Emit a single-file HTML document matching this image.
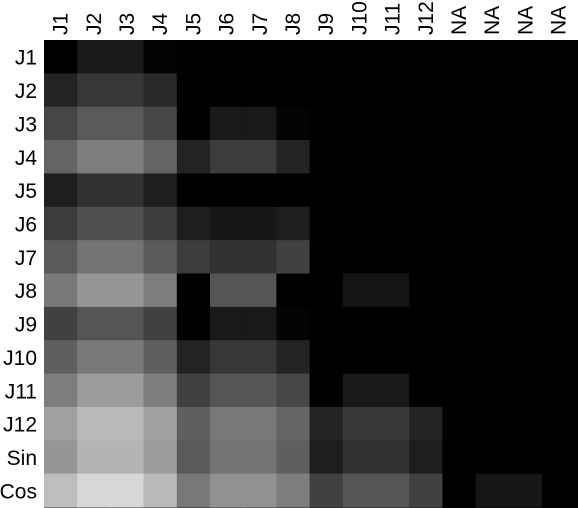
<!DOCTYPE html>
<html><head><meta charset="utf-8"><style>
html,body{margin:0;padding:0;background:#fff;width:578px;height:508px;overflow:hidden}
svg text{font-family:"Liberation Sans",sans-serif;font-size:21px;fill:#000}
</style></head><body>
<svg id="chart" width="578" height="508"></svg>
<script>
const colLabels=["J1","J2","J3","J4","J5","J6","J7","J8","J9","J10","J11","J12","NA","NA","NA","NA"];
const rowLabels=["J1","J2","J3","J4","J5","J6","J7","J8","J9","J10","J11","J12","Sin","Cos"];
const r0=[0,25,25,3,0,0,0,0,0,0,0,0,0,0,0,0];
const r1=[35,55,55,40,0,0,0,0,0,0,0,0,0,0,0,0];
const r2=[70,90,90,70,0,25,25,3,0,0,0,0,0,0,0,0];
const r3=[100,125,125,100,35,60,60,35,0,0,0,0,0,0,0,0];
const r4=[30,50,50,30,0,0,0,0,0,0,0,0,0,0,0,0];
const r5=[60,80,80,60,30,22,22,30,0,0,0,0,0,0,0,0];
const r6=[90,115,115,90,60,50,50,65,0,0,0,0,0,0,0,0];
const r7=[120,150,150,125,0,85,85,0,0,20,20,0,0,0,0,0];
const r8=[65,85,85,65,0,25,25,3,0,0,0,0,0,0,0,0];
const r9=[95,120,120,95,35,55,55,35,0,0,0,0,0,0,0,0];
const r10=[125,155,155,125,65,85,85,70,0,25,25,0,0,0,0,0];
const r11=[160,185,185,160,95,120,120,100,35,55,55,35,0,0,0,0];
const r12=[150,180,180,155,90,115,115,95,30,50,50,30,0,0,0,0];
const r13=[190,215,215,185,120,145,145,125,65,85,85,65,0,22,22,0];
const values=[r0,r1,r2,r3,r4,r5,r6,r7,r8,r9,r10,r11,r12,r13];

const NS="http://www.w3.org/2000/svg";
const svg=document.getElementById('chart');
const X0=44,Y0=40,CW=33.2,RH=33.36;
const xPos=i=>X0+CW*i, yPos=j=>Y0+RH*j;
function mk(t,a){const e=document.createElementNS(NS,t);for(const k in a)e.setAttribute(k,a[k]);svg.appendChild(e);return e;}
const bg=mk('rect',{x:X0,y:Y0,width:578-X0,height:508-Y0,fill:'#000'});


values.forEach((row,j)=>row.forEach((v,i)=>{
  const c=mk('rect',{x:xPos(i),y:yPos(j),width:CW+0.6,height:RH+0.6,fill:`rgb(${v},${v},${v})`});
  
  
}));
colLabels.forEach((l,i)=>{
  const cx=xPos(i)+CW/2+7;
  const t=mk('text',{x:cx,y:35,transform:`rotate(-90 ${cx} 35)`});
  t.textContent=l;
  
  
});
rowLabels.forEach((l,j)=>{
  const t=mk('text',{x:37,y:yPos(j)+RH/2+8,'text-anchor':'end'});
  t.textContent=l;
  
  
});
</script>
</body></html>
